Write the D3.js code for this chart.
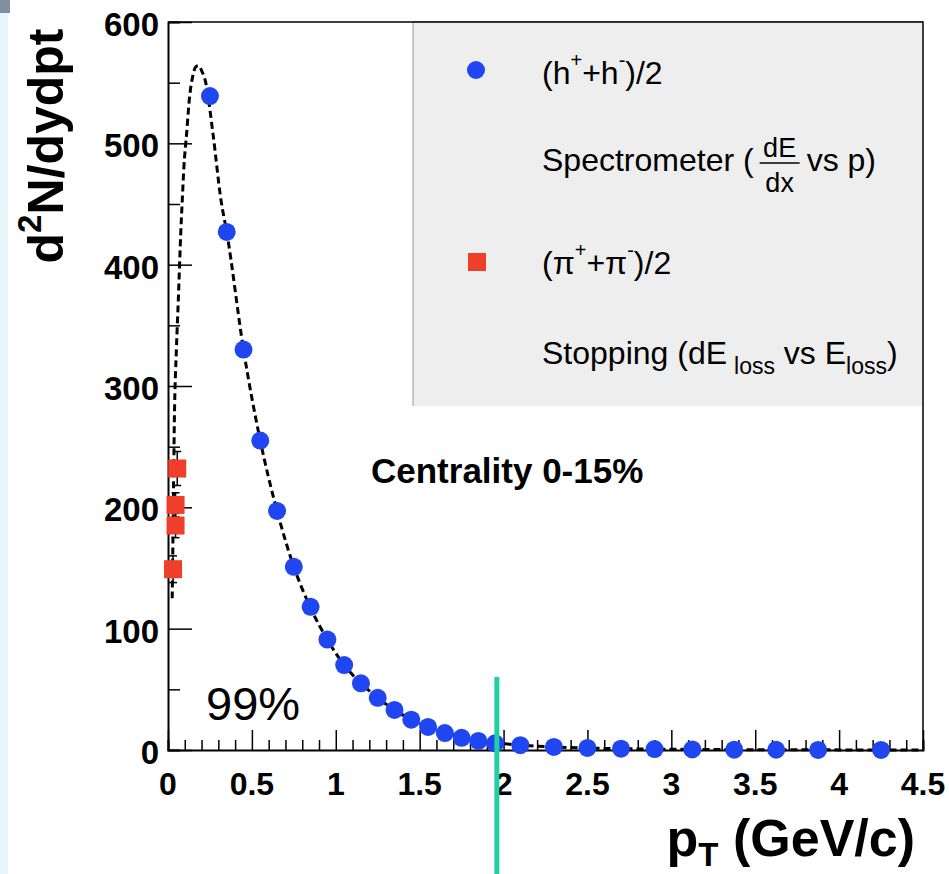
<!DOCTYPE html>
<html>
<head>
<meta charset="utf-8">
<script src="https://cdn.jsdelivr.net/npm/d3@7"></script>
<style>
  body { margin: 0; background: #fff; }
  svg { display: block; font-family: "Liberation Sans", Arial, Helvetica, sans-serif; }
</style>
</head>
<body>
<div id="chart"></div>
<script>
// pT spectrum, centrality 0-15%
const hadronPt  = [0.25, 0.35, 0.45, 0.55, 0.65, 0.75, 0.85, 0.95, 1.05, 1.15, 1.25, 1.35, 1.45, 1.55, 1.65, 1.75, 1.85, 1.95, 2.1, 2.3, 2.5, 2.7, 2.9, 3.125, 3.375, 3.625, 3.875, 4.25];
const hadronVal = [539, 427, 330, 255, 197, 151, 118, 91, 70, 55, 43, 33, 25, 19, 14, 10, 7.5, 5.5, 4, 2.5, 1.7, 1.1, 0.8, 0.5, 0.3, 0.2, 0.1, 0.05];

const pionPt  = [0.055, 0.045, 0.045, 0.03];
const pionVal = [232, 202, 185, 149];
const pionErr = [14, 10, 10, 11];

// dashed fit curve
const fitPt  = [0.025, 0.03, 0.038, 0.05, 0.0615, 0.076, 0.085, 0.095, 0.111, 0.127, 0.147, 0.165, 0.181, 0.2, 0.225, 0.268, 0.316, 0.35, 0.45, 0.55, 0.65, 0.75, 0.85, 0.95, 1.05, 1.15, 1.25, 1.35, 1.45, 1.55, 1.65, 1.75, 1.85, 1.95, 2.1, 2.3, 2.5, 2.7, 2.9, 3.2, 3.6, 4.0, 4.5];
const fitVal = [125, 180, 272, 330, 371, 426, 453, 481, 508, 536, 555, 563, 564, 560, 550, 508, 453, 427, 330, 255, 197, 151, 117, 91, 70, 55, 43, 33, 25, 19, 14.5, 11, 8, 6, 4, 2.5, 1.6, 1.1, 0.7, 0.4, 0.2, 0.1, 0.05];

const cutPt = 1.96;
const xTicks = [0, 0.5, 1, 1.5, 2, 2.5, 3, 3.5, 4, 4.5];
const yTicks = [0, 100, 200, 300, 400, 500, 600];

const width = 949, height = 874;
const blue = "#1f46f0", red = "#ef3e2a", teal = "#1fd0a2";

const svg = d3.select("#chart").append("svg")
  .attr("width", width)
  .attr("height", height);

// slide-edge strip on the left
svg.append("rect").attr("x", 0).attr("y", 0).attr("width", 8).attr("height", height).attr("fill", "#e9f5fc");
svg.append("rect").attr("x", 0).attr("y", 0).attr("width", 10).attr("height", 13).attr("fill", "#7f90a2");

const x = d3.scaleLinear().domain([0, 4.5]).range([168, 923]);
const y = d3.scaleLinear().domain([0, 600]).range([750, 22]);

// legend box (drawn first, frame goes over it)
svg.append("rect")
  .attr("x", 413).attr("y", 21)
  .attr("width", x(4.5) - 413).attr("height", 385)
  .attr("fill", "#eeeeee");
svg.append("path")
  .attr("d", `M413,406V21.5H${x(4.5)}`)
  .attr("fill", "none").attr("stroke", "#999").attr("stroke-width", 1);

// frame
svg.append("path")
  .attr("d", `M${x(0)},${y(600)}H${x(4.5)}V${y(0)}`)
  .attr("fill", "none").attr("stroke", "#000").attr("stroke-width", 1.5);

// x axis, ticks pointing inward
const xAxis = svg.append("g").attr("transform", `translate(0,${y(0)})`);
xAxis.call(d3.axisTop(x).tickValues(d3.range(0, 4.51, 0.1)).tickSize(10).tickFormat(""));
xAxis.call(g => g.selectAll(".tick").filter(d => Math.abs(d * 2 - Math.round(d * 2)) < 1e-6)
  .select("line").attr("y2", -20));
xAxis.selectAll(".tick line").attr("stroke-width", 1.5);
xAxis.select(".domain").attr("stroke-width", 2);

const yAxis = svg.append("g").attr("transform", `translate(${x(0)},0)`);
yAxis.call(d3.axisRight(y).tickValues(d3.range(0, 601, 50)).tickSize(12).tickFormat(""));
yAxis.call(g => g.selectAll(".tick").filter(d => d % 100 === 0).select("line").attr("x2", 24));
yAxis.selectAll(".tick line").attr("stroke-width", 1.5);
yAxis.select(".domain").attr("stroke-width", 2);

// tick labels
svg.append("g").selectAll("text").data(xTicks).join("text")
  .attr("x", d => x(d)).attr("y", 795)
  .attr("text-anchor", "middle")
  .attr("font-size", 32).attr("font-weight", "bold")
  .text(d => d3.format("~g")(d));
svg.append("g").selectAll("text").data(yTicks).join("text")
  .attr("x", 159).attr("y", d => y(d) + 14)
  .attr("text-anchor", "end")
  .attr("font-size", 33).attr("font-weight", "bold")
  .text(d => d);

// axis titles
const yt = svg.append("text")
  .attr("transform", "translate(63,146) rotate(-90)")
  .attr("text-anchor", "middle")
  .attr("font-size", 50).attr("font-weight", "bold");
yt.append("tspan").text("d");
yt.append("tspan").attr("font-size", 33).attr("dy", -22).text("2");
yt.append("tspan").attr("dy", 22).text("N/dydpt");

const xt = svg.append("text")
  .attr("x", 915).attr("y", 856)
  .attr("text-anchor", "end")
  .attr("font-size", 52).attr("font-weight", "bold");
xt.append("tspan").text("p");
xt.append("tspan").attr("font-size", 33).attr("dy", 10).text("T");
xt.append("tspan").attr("dy", -10).text(" (GeV/c)");

// fit curve
svg.append("path")
  .datum(d3.zip(fitPt, fitVal))
  .attr("fill", "none")
  .attr("stroke", "#000")
  .attr("stroke-width", 3)
  .attr("stroke-dasharray", "7,4")
  .attr("d", d3.line().x(d => x(d[0])).y(d => y(d[1])).curve(d3.curveMonotoneX));

// pion points with error bars
const pions = d3.range(pionPt.length).map(i => ({pt: pionPt[i], v: pionVal[i], e: pionErr[i]}));
const eb = svg.append("g").attr("stroke", "#000").attr("stroke-width", 1.5);
pions.forEach(p => {
  const cx = x(p.pt);
  eb.append("line").attr("x1", cx).attr("x2", cx).attr("y1", y(p.v + p.e)).attr("y2", y(p.v - p.e));
  [p.v + p.e, p.v - p.e].forEach(v =>
    eb.append("line").attr("x1", cx - 4).attr("x2", cx + 4).attr("y1", y(v)).attr("y2", y(v)));
});
svg.append("g").selectAll("rect").data(pions).join("rect")
  .attr("x", d => x(d.pt) - 9).attr("y", d => y(d.v) - 9)
  .attr("width", 18).attr("height", 18)
  .attr("fill", red);

// hadron points
svg.append("g").selectAll("circle").data(d3.zip(hadronPt, hadronVal)).join("circle")
  .attr("cx", d => x(d[0])).attr("cy", d => y(d[1]))
  .attr("r", 9)
  .attr("fill", blue);

// 99% cut line
svg.append("line")
  .attr("x1", x(cutPt)).attr("x2", x(cutPt))
  .attr("y1", 677).attr("y2", height)
  .attr("stroke", teal).attr("stroke-width", 5);
svg.append("text")
  .attr("x", 206).attr("y", 720)
  .attr("font-size", 47)
  .text("99%");

svg.append("text")
  .attr("x", 371).attr("y", 483)
  .attr("font-size", 35).attr("font-weight", "bold")
  .text("Centrality 0-15%");

// legend entries
const lx = 542, fs = 32, sup = 20, sub = 23;
svg.append("circle").attr("cx", 476).attr("cy", 70).attr("r", 9).attr("fill", blue);
svg.append("rect").attr("x", 468).attr("y", 253).attr("width", 18).attr("height", 18).attr("fill", red);

const l1 = svg.append("text").attr("x", lx).attr("y", 84).attr("font-size", fs);
l1.append("tspan").text("(h");
l1.append("tspan").attr("font-size", sup).attr("dy", -17).text("+");
l1.append("tspan").attr("dy", 17).text("+h");
l1.append("tspan").attr("font-size", sup).attr("dy", -17).text("-");
l1.append("tspan").attr("dy", 17).text(")/2");

const l2 = svg.append("text").attr("x", lx).attr("y", 171).attr("font-size", fs).text("Spectrometer (");
const fx = lx + l2.node().getComputedTextLength() + 6;
svg.append("text").attr("x", fx + 20).attr("y", 157).attr("text-anchor", "middle").attr("font-size", 27).text("dE");
svg.append("line").attr("x1", fx).attr("x2", fx + 40).attr("y1", 163).attr("y2", 163).attr("stroke", "#000").attr("stroke-width", 1.5);
svg.append("text").attr("x", fx + 20).attr("y", 192).attr("text-anchor", "middle").attr("font-size", 27).text("dx");
svg.append("text").attr("x", fx + 47).attr("y", 171).attr("font-size", fs).text("vs p)");

const l3 = svg.append("text").attr("x", lx).attr("y", 274).attr("font-size", fs);
l3.append("tspan").text("(\u03c0");
l3.append("tspan").attr("font-size", sup).attr("dy", -17).text("+");
l3.append("tspan").attr("dy", 17).text("+\u03c0");
l3.append("tspan").attr("font-size", sup).attr("dy", -17).text("-");
l3.append("tspan").attr("dy", 17).text(")/2");

const l4 = svg.append("text").attr("x", lx).attr("y", 364).attr("font-size", fs);
l4.append("tspan").text("Stopping (dE");
l4.append("tspan").attr("font-size", sub).attr("dx", 7).attr("dy", 10).text("loss");
l4.append("tspan").attr("dy", -10).text(" vs E");
l4.append("tspan").attr("font-size", sub).attr("dy", 10).text("loss");
l4.append("tspan").attr("dy", -10).text(")");
</script>
</body>
</html>
